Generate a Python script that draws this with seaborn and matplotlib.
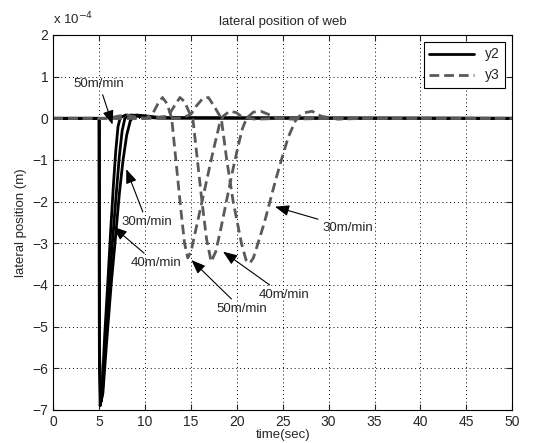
"""
Lateral position of web: y2 (solid) and y3 (dashed) responses at
30 / 40 / 50 m/min.  Values are in units of 1e-4 m.
"""

import matplotlib
matplotlib.use("Agg")
import matplotlib.pyplot as plt
from matplotlib.lines import Line2D
import pandas as pd
import seaborn as sns

# ── data (y in 1e-4 m) ──────────────────────────────────────────────────────
y2_50_t = [0, 5, 5.02, 5.1, 5.3, 5.6, 5.95, 6.25, 6.55, 6.8, 7.05, 7.3, 7.9, 9, 11, 50]
y2_50_y = [0, 0, -5.7, -6.9, -6.6, -5.2, -3.9, -2.7, -1.6, -0.8, -0.2, 0.02, 0.08, 0.05, 0.01, 0]

y2_40_t = [0, 5, 5.02, 5.15, 5.35, 5.7, 6.1, 6.5, 6.9, 7.2, 7.5, 7.8, 8.4, 9.5, 11.5, 50]
y2_40_y = [0, 0, -5.6, -6.85, -6.6, -5.3, -4.0, -2.8, -1.7, -0.9, -0.3, 0.0, 0.08, 0.06, 0.01, 0]

y2_30_t = [0, 5, 5.02, 5.2, 5.4, 5.8, 6.3, 6.8, 7.2, 7.6, 8.0, 8.4, 9.0, 10, 12, 50]
y2_30_y = [0, 0, -5.5, -6.8, -6.6, -5.4, -4.0, -2.8, -1.8, -1.0, -0.4, -0.05, 0.08, 0.06, 0.01, 0]

y3_50_t = [0, 5, 6, 7, 8, 9, 10, 10.8, 11.4, 11.9, 12.4, 12.9, 13.4, 13.9, 14.3,
           14.65, 15.0, 15.8, 16.6, 17.4, 18.1, 18.5, 19.2, 19.9, 20.6, 22, 25, 50]
y3_50_y = [0, 0, 0.0, 0.05, 0.08, 0.03, 0.0, 0.1, 0.35, 0.5, 0.35, 0.0, -1.1, -2.2, -3.0,
           -3.35, -3.2, -2.4, -1.6, -0.8, -0.15, 0.05, 0.17, 0.14, 0.03, -0.02, 0, 0]

y3_40_t = [0, 5, 10, 12.5, 13.2, 13.8, 14.3, 14.8, 15.2, 15.7, 16.2, 16.7, 17.2,
           17.7, 18.3, 18.9, 19.5, 20.1, 20.6, 21.05, 21.8, 22.6, 23.4, 24.2, 26, 30, 50]
y3_40_y = [0, 0, 0, 0.05, 0.3, 0.5, 0.4, 0.15, 0.0, -1.0, -2.0, -2.9, -3.44,
           -3.2, -2.6, -1.95, -1.3, -0.7, -0.25, 0.0, 0.15, 0.17, 0.1, 0.02, -0.02, 0, 0]

y3_30_t = [0, 5, 14, 15.0, 15.6, 16.3, 16.9, 17.5, 18.3, 18.9, 19.6, 20.5, 21.0,
           21.4, 21.8, 22.3, 23.0, 23.6, 24.2, 24.85, 25.6, 26.5, 27.3, 28.2,
           29.2, 31, 34, 50]
y3_30_y = [0, 0, 0, 0.1, 0.3, 0.48, 0.5, 0.3, 0.0, -1.0, -2.0, -3.0, -3.4,
           -3.48, -3.35, -3.0, -2.5, -2.0, -1.5, -1.0, -0.45, 0.0, 0.13, 0.17,
           0.05, -0.02, 0, 0]

x_ticks = list(range(0, 51, 5))
y_ticks = list(range(-7, 3))

# annotation labels: (text, tip t, tip y, text t, text y)
notes = [
    ("50m/min", 6.45, -0.15, 5.0, 0.82),
    ("30m/min", 7.95, -1.22, 10.2, -2.5),
    ("40m/min", 6.5, -2.6, 11.2, -3.48),
    ("50m/min", 15.05, -3.4, 20.55, -4.58),
    ("40m/min", 18.5, -3.2, 25.1, -4.24),
    ("30m/min", 24.15, -2.12, 32.1, -2.63),
]

# ── figure ──────────────────────────────────────────────────────────────────
sns.set_style("ticks")
plt.rcParams["font.family"] = ["Liberation Sans", "DejaVu Sans"]
plt.rcParams["font.size"] = 10

fig = plt.figure(figsize=(5.33, 4.43), dpi=100)
ax = fig.add_axes([0.100, 0.0745, 0.861, 0.8465])

DASH_GREY = "#5a5a5a"
DASHES = (0, (3.5, 1.8))
series = [
    (y2_50_t, y2_50_y, "black", "-"),
    (y2_40_t, y2_40_y, "black", "-"),
    (y2_30_t, y2_30_y, "black", "-"),
    (y3_50_t, y3_50_y, DASH_GREY, DASHES),
    (y3_40_t, y3_40_y, DASH_GREY, DASHES),
    (y3_30_t, y3_30_y, DASH_GREY, DASHES),
]
for t, y, col, ls in series:
    df = pd.DataFrame({"t": t, "y": y})
    sns.lineplot(data=df, x="t", y="y", color=col, linestyle=ls, lw=2.0,
                 estimator=None, sort=False, ax=ax)

for txt, tx, ty, lx, ly in notes:
    ax.annotate(txt, xy=(tx, ty), xytext=(lx, ly), ha="center", va="center",
                fontsize=9.5,
                arrowprops=dict(arrowstyle="-|>,head_length=0.9,head_width=0.35",
                                color="black", lw=0.8, shrinkA=1, shrinkB=0))

ax.set_xlim(0, 50)
ax.set_ylim(-7, 2)
ax.set_xticks(x_ticks)
ax.set_yticks(y_ticks)
ax.grid(True, color="black", linestyle=(0, (1, 3)), lw=0.7)
ax.tick_params(direction="in", top=True, right=True, length=4, labelsize=10,
               width=0.8)
for spine in ax.spines.values():
    spine.set_color("black")
    spine.set_linewidth(0.8)

ax.set_title("lateral position of web", fontsize=9.5, pad=7)
ax.set_xlabel("time(sec)", fontsize=9.5, labelpad=0)
ax.set_ylabel("lateral position (m)", fontsize=9.5, labelpad=4)
ax.text(0.0, 1.02, r"x 10$^{-4}$", transform=ax.transAxes,
        ha="left", va="bottom", fontsize=9.5)

handles = [Line2D([], [], color="black", lw=2.0, ls="-"),
           Line2D([], [], color=DASH_GREY, lw=2.0, ls=DASHES)]
leg = ax.legend(handles, ["y2", "y3"], loc="upper right", fontsize=10,
                handlelength=3.2, fancybox=False, framealpha=1,
                edgecolor="black", borderaxespad=0.5)
leg.get_frame().set_linewidth(0.8)

fig.savefig("out.png", dpi=100)
plt.close(fig)
